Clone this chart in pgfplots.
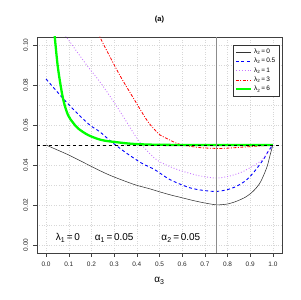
\documentclass[border=0pt]{standalone}
\usepackage{fontspec}
\setmainfont{Liberation Sans}
\usepackage{pgfplots}
\pgfplotsset{compat=1.18}
\definecolor{myviolet}{RGB}{200,120,255}
\definecolor{mygreen}{RGB}{0,255,0}
\definecolor{mygrid}{RGB}{215,215,215}
\begin{document}
\begin{tikzpicture}
\useasboundingbox (-37bp,-47bp) rectangle (264bp,253bp);
\begin{axis}[
  scale only axis, width=245bp, height=216bp,
  xmin=-0.04, xmax=1.04, ymin=-0.004, ymax=0.104,
  xtick={0,0.1,...,1.0}, ytick={0,0.02,0.04,0.06,0.08,0.10},
  minor ytick={0.01,0.03,0.05,0.07,0.09},
  xticklabels={0.0,0.1,0.2,0.3,0.4,0.5,0.6,0.7,0.8,0.9,1.0},
  yticklabels={0.00,0.02,0.04,0.06,0.08,0.10},
  /pgf/number format/assume math mode=true,
  xtick pos=bottom, ytick pos=left,
  tick align=outside, major tick length=3.5bp, minor tick length=0pt,
  tick style={black!75, line width=0.5pt},
  grid=both,
  major grid style={mygrid, dotted, line width=0.4pt},
  minor grid style={mygrid, dotted, line width=0.4pt},
  axis line style={black!75, line width=0.6pt},
  ticklabel style={font=\fontsize{6.5}{7}\selectfont, text=black!85},
  yticklabel style={rotate=90, anchor=south},
  yticklabel shift=2bp,
  xticklabel style={yshift=-2bp},
  xlabel={α\textsubscript{3}}, xlabel style={font=\fontsize{10}{12}\selectfont, yshift=-4bp},
  title={\textbf{(a)}}, title style={font=\fontsize{7.5}{9}\selectfont, yshift=4bp},
  legend style={at={(0.988,0.963)}, anchor=north east, font=\fontsize{6.5}{7.5}\selectfont,
    draw=black!80, line width=0.5pt, inner sep=1.5pt, row sep=-0.8pt, cells={anchor=west}},
  legend image code/.code={\draw[#1] (0bp,0bp) -- (15bp,0bp);},
  clip=true,
]
\addplot[black!80, line width=0.55pt, smooth] coordinates {
(0,0.0500) (0.05,0.0475) (0.1,0.0450) (0.17,0.0410) (0.244,0.0368) (0.3,0.0340) (0.39,0.0302) (0.457,0.0281) (0.5,0.0266) (0.55,0.0250) (0.604,0.0235) (0.65,0.0222) (0.7,0.0210) (0.752,0.0201) (0.8,0.0205) (0.84,0.0219) (0.88,0.0240) (0.913,0.0269) (0.94,0.0305) (0.957,0.0343) (0.975,0.0395) (0.99,0.0460) (1.0,0.0500)};
\addlegendentry{λ\textsubscript{2}\,=\,0}
\addplot[blue, line width=0.9pt, dash pattern=on 3bp off 2.5bp, smooth] coordinates {
(0,0.0830) (0.09,0.0714) (0.185,0.0607) (0.237,0.0566) (0.288,0.0516) (0.355,0.0459) (0.42,0.0410) (0.48,0.0376) (0.546,0.0327) (0.634,0.0286) (0.7,0.0272) (0.752,0.0268) (0.8,0.0277) (0.84,0.0294) (0.88,0.0322) (0.913,0.0360) (0.957,0.0426) (0.98,0.0470) (1.0,0.0500)};
\addlegendentry{λ\textsubscript{2}\,=\,0.5}
\addplot[myviolet, line width=0.9pt, dotted, smooth] coordinates {
(0.082,0.1060) (0.09,0.1040) (0.171,0.0912) (0.244,0.0805) (0.318,0.0682) (0.391,0.0550) (0.43,0.0490) (0.487,0.0426) (0.55,0.0390) (0.604,0.0368) (0.68,0.0345) (0.752,0.0335) (0.81,0.0345) (0.869,0.0368) (0.943,0.0417) (0.975,0.0460) (1.0,0.0500)};
\addlegendentry{λ\textsubscript{2}\,=\,1}
\addplot[red, line width=0.8pt, dash pattern=on 3bp off 1.5bp on 1bp off 1.5bp, smooth] coordinates {
(0.232,0.1060) (0.237,0.1040) (0.318,0.0863) (0.391,0.0723) (0.45,0.0615) (0.502,0.0550) (0.531,0.0533) (0.59,0.0503) (0.678,0.0487) (0.75,0.0483) (0.796,0.0484) (0.899,0.0492) (1.0,0.0500)};
\addlegendentry{λ\textsubscript{2}\,=\,3}
\addplot[mygreen, line width=2.3pt, smooth] coordinates {
(0.035,0.1080) (0.04,0.1020) (0.053,0.0880) (0.075,0.0730) (0.097,0.0649) (0.12,0.0610) (0.141,0.0583) (0.185,0.0550) (0.244,0.0525) (0.318,0.0513) (0.391,0.0505) (0.5,0.0501) (0.7,0.0500) (1.0,0.0500)};
\addlegendentry{λ\textsubscript{2}\,=\,6}
\addplot[black, line width=0.5pt, dashed, forget plot] coordinates {(-0.04,0.05) (1.04,0.05)};
\addplot[black!45, line width=1pt, forget plot] coordinates {(0.75,-0.004) (0.75,0.104)};
\node[font=\fontsize{10}{12}\selectfont] at (axis cs:0.096,0.0035) {λ\textsubscript{1}\,=\,0};
\node[font=\fontsize{10}{12}\selectfont] at (axis cs:0.30,0.0035) {α\textsubscript{1}\,=\,0.05};
\node[font=\fontsize{10}{12}\selectfont] at (axis cs:0.594,0.0035) {α\textsubscript{2}\,=\,0.05};
\end{axis}
\end{tikzpicture}
\end{document}
